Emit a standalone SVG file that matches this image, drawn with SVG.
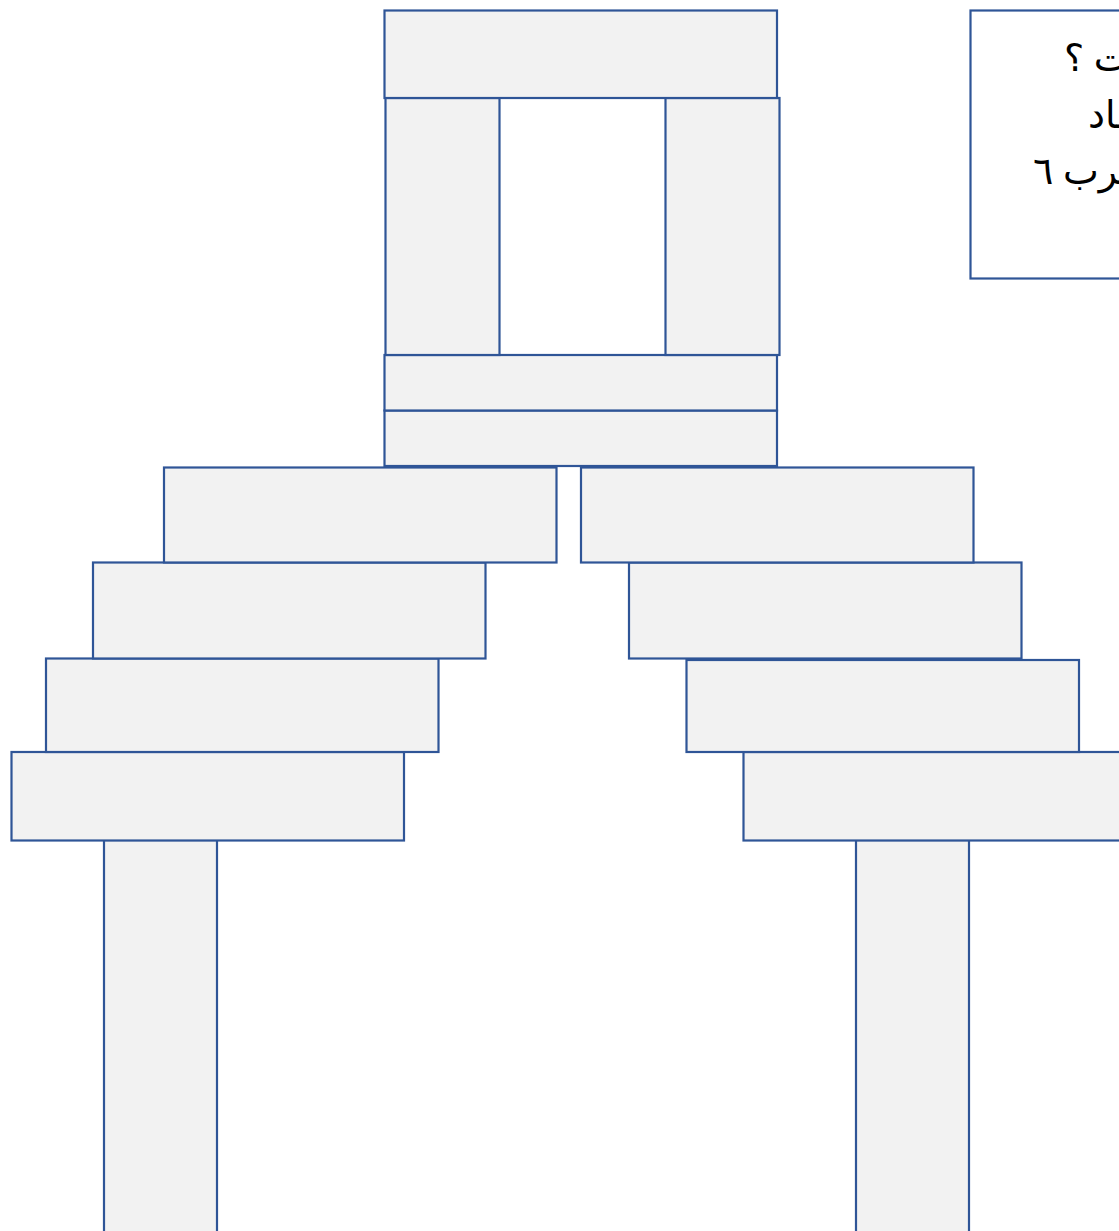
<svg xmlns="http://www.w3.org/2000/svg" width="1119" height="1231" viewBox="0 0 1119 1231">
<style>
.b{fill:#F2F2F2;stroke:#2F5597;stroke-width:2.2}
.t{fill:#FFFFFF;stroke:#2F5597;stroke-width:2.2}
.txt{font-family:"Liberation Serif","DejaVu Serif","DejaVu Sans",serif;font-size:38px;fill:#000}
</style>
<rect width="1119" height="1231" fill="#FFFFFF"/>
<g id="legs">
<rect id="leg-left" class="b" x="104" y="840" width="113" height="400"/>
<rect id="leg-right" class="b" x="856" y="840" width="113" height="400"/>
</g>
<g id="left-steps">
<rect id="ls4" class="b" x="11.5" y="752" width="392.5" height="88.5"/>
<rect id="ls3" class="b" x="46" y="658.5" width="392.5" height="93.5"/>
<rect id="ls2" class="b" x="93" y="562.5" width="392.5" height="96"/>
<rect id="ls1" class="b" x="164" y="467.5" width="392.5" height="95"/>
</g>
<g id="right-steps">
<rect id="rs4" class="b" x="743.5" y="752" width="400" height="88.5"/>
<rect id="rs3" class="b" x="686.5" y="660" width="392.5" height="92"/>
<rect id="rs2" class="b" x="629" y="562.5" width="392.5" height="96"/>
<rect id="rs1" class="b" x="581" y="467.5" width="392.5" height="95"/>
</g>
<g id="tower">
<rect id="base2" class="b" x="384.5" y="410.5" width="392.5" height="55.5"/>
<rect id="base1" class="b" x="384.5" y="355" width="392.5" height="55.5"/>
<rect id="pillar-left" class="b" x="385.5" y="98" width="114" height="257"/>
<rect id="pillar-right" class="b" x="665.5" y="98" width="114" height="257"/>
<rect id="top" class="b" x="384.5" y="10.5" width="392.5" height="87.5"/>
</g>
<g id="note">
<rect class="t" x="970.5" y="10.5" width="200" height="268"/>
<text class="txt" x="1064" y="71">ـت ؟</text>
<text class="txt" x="1088" y="128">ـاد</text>
<text class="txt" x="1033" y="184">ـرب ٦</text>
</g>
</svg>
